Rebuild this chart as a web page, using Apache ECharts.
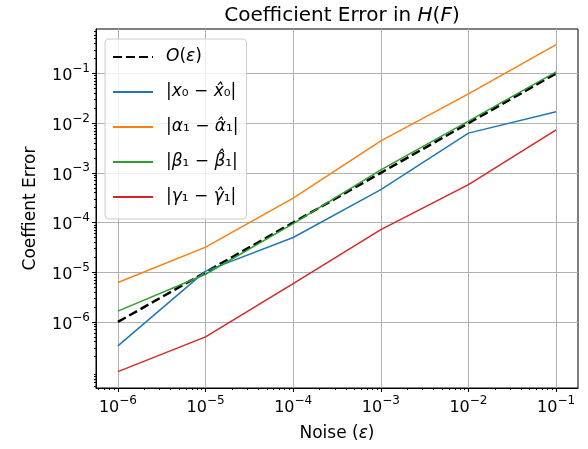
<!DOCTYPE html>
<html>
<head>
<meta charset="utf-8">
<script src="https://cdn.jsdelivr.net/npm/echarts@6/dist/echarts.min.js"></script>
<style>
  html, body { margin: 0; padding: 0; background: #fff; }
  #chart { width: 588px; height: 449px; }
</style>
</head>
<body>
<div id="chart"></div>
<script>
// noise levels (x)
var noise = [1e-6, 1e-5, 1e-4, 1e-3, 1e-2, 1e-1]
// reference slope O(eps)
var orderEps = [1e-6, 1e-5, 1e-4, 1e-3, 1e-2, 1e-1]
// coefficient errors
var errX0 = [3.3e-7, 1.05e-5, 5e-5, 4.6e-4, 6.3e-3, 1.7e-2]
var errAlpha = [6.2e-6, 3.2e-5, 3.1e-4, 4.4e-3, 3.9e-2, 0.38]
var errBeta = [1.65e-6, 9.1e-6, 9.5e-5, 1.15e-3, 1.1e-2, 0.108]
var errGamma = [1e-7, 5e-7, 5.9e-6, 7.2e-5, 5.8e-4, 7.3e-3]

var xTicks = [1e-6, 1e-5, 1e-4, 1e-3, 1e-2, 1e-1]
var yTicks = [1e-6, 1e-5, 1e-4, 1e-3, 1e-2, 1e-1]

var seriesNames = ['O(ε)', '|x0 - x̂0|', '|α1 - α̂1|', '|β1 - β̂1|', '|γ1 - γ̂1|']
var richNames = {
  'O(ε)': '{i|O}{n|(}{i|ε}{n|)}',
  '|x0 - x̂0|': '{n||}{i|x}{n|₀ − }{i|x̂}{n|₀|}',
  '|α1 - α̂1|': '{n||}{i|α}{n|₁ − }{i|α̂}{n|₁|}',
  '|β1 - β̂1|': '{n||}{i|β}{n|₁ − }{i|β̂}{n|₁|}',
  '|γ1 - γ̂1|': '{n||}{i|γ}{n|₁ − }{i|γ̂}{n|₁|}'
}

var FONT = 'DejaVu Sans'
var xMin = Math.pow(10, -6.25)
var xMax = Math.pow(10, -0.75)
var yMin = Math.pow(10, -7.33)
var yMax = Math.pow(10, -0.105)

function minorTicks(lo, hi) {
  var out = []
  for (var e = -9; e <= 1; e++) {
    for (var m = 2; m <= 9; m++) {
      var v = m * Math.pow(10, e)
      if (v > lo && v < hi) out.push(v)
    }
  }
  return out
}

function pairs(ys) {
  return noise.map(function(x, i) { return [x, ys[i]] })
}

function powLabel(v) {
  var e = Math.round(Math.log10(v))
  return '{b|10}{s|' + (e < 0 ? '−' : '') + Math.abs(e) + '}'
}

var tickRich = {
  b: { fontFamily: FONT, fontSize: 16, color: '#000', lineHeight: 21, verticalAlign: 'bottom' },
  s: { fontFamily: FONT, fontSize: 12, color: '#000', lineHeight: 13, verticalAlign: 'top' }
}

var mathRich = {
  n: { fontFamily: FONT, fontSize: 17, color: '#000', fontWeight: 'normal', lineHeight: 20 },
  i: { fontFamily: FONT, fontSize: 17, color: '#000', fontWeight: 'normal', fontStyle: 'italic', lineHeight: 20 }
}

var titleRich = {
  n: { fontFamily: FONT, fontSize: 20, color: '#000', fontWeight: 'normal' },
  i: { fontFamily: FONT, fontSize: 20, color: '#000', fontWeight: 'normal', fontStyle: 'italic' }
}

var chart = echarts.init(document.getElementById('chart'))

var option = {
  backgroundColor: '#fff',
  animation: false,
  title: {
    text: '{n|Coefficient Error in }{i|H}{n|(}{i|F}{n|)}',
    left: 337,
    top: 1,
    textAlign: 'center',
    textStyle: { fontWeight: 'normal', rich: titleRich }
  },
  grid: {
    left: 96,
    right: 10,
    top: 29,
    bottom: 61,
    show: true,
    borderColor: '#000',
    borderWidth: 1,
    backgroundColor: 'transparent'
  },
  legend: {
    orient: 'vertical',
    left: 105,
    top: 39,
    data: seriesNames,
    itemWidth: 40,
    itemHeight: 14,
    itemGap: 15,
    padding: [8, 8, 12, 7],
    backgroundColor: 'rgba(255,255,255,0.8)',
    borderColor: '#cccccc',
    borderWidth: 1,
    borderRadius: 4,
    itemStyle: { opacity: 0 },
    formatter: function(name) { return richNames[name] },
    textStyle: {
      padding: [0, 0, 0, 8],
      rich: {
        n: { fontFamily: FONT, fontSize: 17, color: '#000', fontWeight: 'normal', lineHeight: 20 },
        i: { fontFamily: FONT, fontSize: 17, color: '#000', fontWeight: 'normal', fontStyle: 'italic', lineHeight: 20 }
      },
      lineHeight: 20,
      height: 20
    }
  },
  xAxis: [{
    type: 'log',
    logBase: 10,
    min: xMin,
    max: xMax,
    name: '{n|Noise (}{i|ε}{n|)}',
    nameLocation: 'middle',
    nameGap: 36,
    nameTextStyle: { rich: mathRich },
    axisLine: { show: true, lineStyle: { color: '#000', width: 1 } },
    axisTick: { show: true, length: 4, lineStyle: { color: '#000' }, customValues: xTicks },
    axisLabel: { customValues: xTicks, margin: 7, formatter: powLabel, rich: tickRich },
    splitLine: { show: true, lineStyle: { color: '#b0b0b0', width: 1 } },
    minorTick: { show: false }
  }, {
    type: 'log',
    logBase: 10,
    min: xMin,
    max: xMax,
    position: 'bottom',
    axisLine: { show: false },
    axisTick: { show: true, length: 2, lineStyle: { color: '#000' }, customValues: minorTicks(xMin, xMax) },
    axisLabel: { show: false },
    splitLine: { show: false }
  }],
  yAxis: [{
    type: 'log',
    logBase: 10,
    min: yMin,
    max: yMax,
    name: 'Coeffient Error',
    nameLocation: 'middle',
    nameGap: 57,
    nameTextStyle: { fontFamily: FONT, fontSize: 17, color: '#000' },
    axisLine: { show: true, lineStyle: { color: '#000', width: 1 } },
    axisTick: { show: true, length: 4, lineStyle: { color: '#000' }, customValues: yTicks },
    axisLabel: { customValues: yTicks, margin: 6, formatter: powLabel, rich: tickRich },
    splitLine: { show: true, lineStyle: { color: '#b0b0b0', width: 1 } }
  }, {
    type: 'log',
    logBase: 10,
    min: yMin,
    max: yMax,
    position: 'left',
    axisLine: { show: false },
    axisTick: { show: true, length: 2, lineStyle: { color: '#000' }, customValues: minorTicks(yMin, yMax) },
    axisLabel: { show: false },
    splitLine: { show: false }
  }],
  series: [{
    name: seriesNames[0],
    type: 'line',
    data: pairs(orderEps),
    symbol: 'none',
    lineStyle: { color: '#000', width: 2.5, type: [9, 4] },
    itemStyle: { color: '#000' }
  }, {
    name: seriesNames[1],
    type: 'line',
    data: pairs(errX0),
    symbol: 'none',
    lineStyle: { color: '#1f77b4', width: 1.5 },
    itemStyle: { color: '#1f77b4' }
  }, {
    name: seriesNames[2],
    type: 'line',
    data: pairs(errAlpha),
    symbol: 'none',
    lineStyle: { color: '#ff7f0e', width: 1.5 },
    itemStyle: { color: '#ff7f0e' }
  }, {
    name: seriesNames[3],
    type: 'line',
    data: pairs(errBeta),
    symbol: 'none',
    lineStyle: { color: '#2ca02c', width: 1.5 },
    itemStyle: { color: '#2ca02c' }
  }, {
    name: seriesNames[4],
    type: 'line',
    data: pairs(errGamma),
    symbol: 'none',
    lineStyle: { color: '#d62728', width: 1.5 },
    itemStyle: { color: '#d62728' }
  }]
}

chart.setOption(option, true)
</script>
</body>
</html>
